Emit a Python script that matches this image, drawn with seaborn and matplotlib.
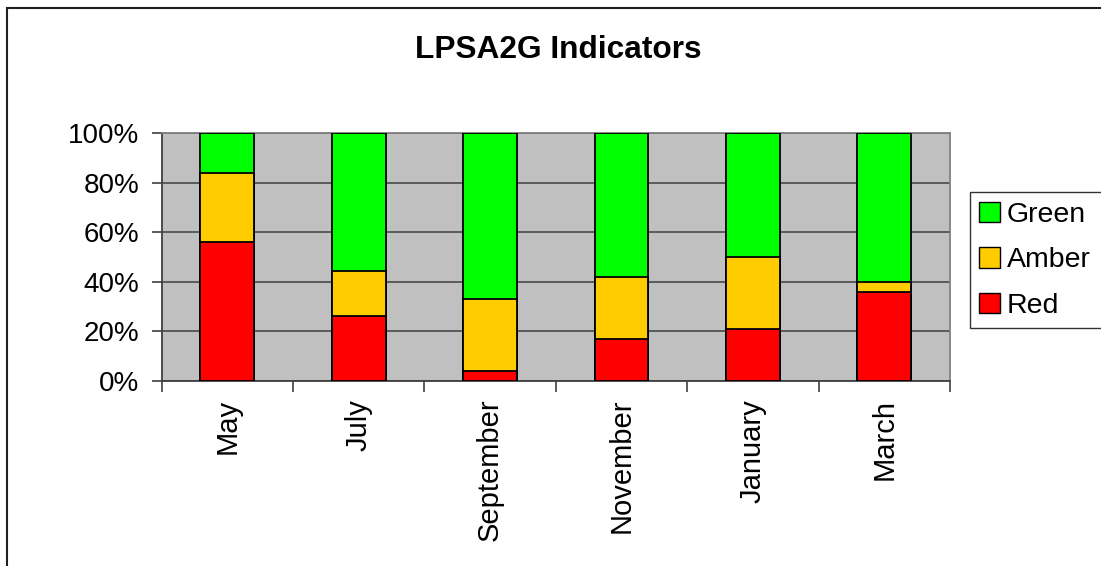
import matplotlib
matplotlib.use("Agg")
import matplotlib.pyplot as plt
import seaborn as sns
import pandas as pd
import numpy as np
from matplotlib.patches import Rectangle, Patch
from matplotlib.ticker import FixedLocator, PercentFormatter

months = ["May", "July", "September", "November", "January", "March"]
red = [56, 26, 4, 17, 21, 36]
amber = [28, 18.5, 29, 25, 29, 4]
green = [16, 55.5, 67, 58, 50, 60]
series_names = ["Green", "Amber", "Red"]
colors = {"Green": "#00FF00", "Amber": "#FFCC00", "Red": "#FF0000"}

sns.set_style("white")
plt.rcParams["font.family"] = ["Liberation Sans", "DejaVu Sans"]
plt.rcParams["text.color"] = "black"
plt.rcParams["xtick.color"] = "black"
plt.rcParams["ytick.color"] = "black"

red_a = np.array(red)
amber_a = np.array(amber)
green_a = np.array(green)
df = pd.DataFrame({
    "month": months,
    "green_top": red_a + amber_a + green_a,
    "amber_top": red_a + amber_a,
    "red_top": red_a,
})

fig = plt.figure(figsize=(11.01, 5.66), dpi=100)
ax = fig.add_axes([161.7 / 1101, 1 - 380.7 / 566, (950 - 161.7) / 1101, (380.7 - 133.3) / 566])
ax.set_facecolor("#C0C0C0")
ax.set_axisbelow(True)

for col, name in [("green_top", "Green"), ("amber_top", "Amber"), ("red_top", "Red")]:
    sns.barplot(data=df, x="month", y=col, order=months, color=colors[name],
                saturation=1, width=0.41, edgecolor="black", linewidth=1.3, ax=ax, zorder=3)

ax.set_ylim(0, 100)
ax.set_xlim(-0.5, 5.5)
ax.yaxis.set_major_locator(FixedLocator([0, 20, 40, 60, 80, 100]))
ax.yaxis.set_major_formatter(PercentFormatter(decimals=0))
ax.grid(axis="y", color="#404040", linewidth=1.1, zorder=0)
ax.grid(axis="x", visible=False)
ax.set_xlabel("")
ax.set_ylabel("")

ax.set_xticks(range(len(months)))
ax.set_xticklabels(months, rotation=90, fontsize=21, va="top", ha="center")
ax.set_xticks(np.arange(-0.5, 6.0, 1.0), minor=True)
ax.tick_params(axis="x", which="major", length=0, pad=13)
ax.tick_params(axis="x", which="minor", length=8, width=1.2, color="#404040", bottom=True)
ax.tick_params(axis="y", which="major", length=7, width=1.2, color="#404040", labelsize=20, pad=9, left=True)

for s in ["left", "bottom"]:
    ax.spines[s].set_color("#404040")
    ax.spines[s].set_linewidth(1.3)
for s in ["top", "right"]:
    ax.spines[s].set_color("#808080")
    ax.spines[s].set_linewidth(1.3)

fig.text(558 / 1101, 1 - 50 / 566, "LPSA2G Indicators", fontsize=22.8, fontweight="bold",
         ha="center", va="center", color="black")

handles = [Patch(facecolor=colors[n], edgecolor="black", linewidth=1.0, label=n) for n in series_names]
leg = fig.legend(handles=handles, loc="upper left",
                 bbox_to_anchor=(970 / 1101, 1 - 193 / 566, (1115 - 970) / 1101, 0.001), mode="expand",
                 fontsize=20.5, frameon=True, fancybox=False, handlelength=0.72, handleheight=0.72,
                 handletextpad=0.25, labelspacing=0.68, borderpad=0.33, borderaxespad=0)
leg.get_frame().set_edgecolor("black")
leg.get_frame().set_linewidth(1.0)

fig.patches.append(Rectangle((7 / 1101, -0.1), 1.2, 1 - 8 / 566 + 0.1, transform=fig.transFigure,
                             fill=False, edgecolor="#202020", linewidth=1.5, zorder=0))

fig.savefig("out.png", dpi=100)
